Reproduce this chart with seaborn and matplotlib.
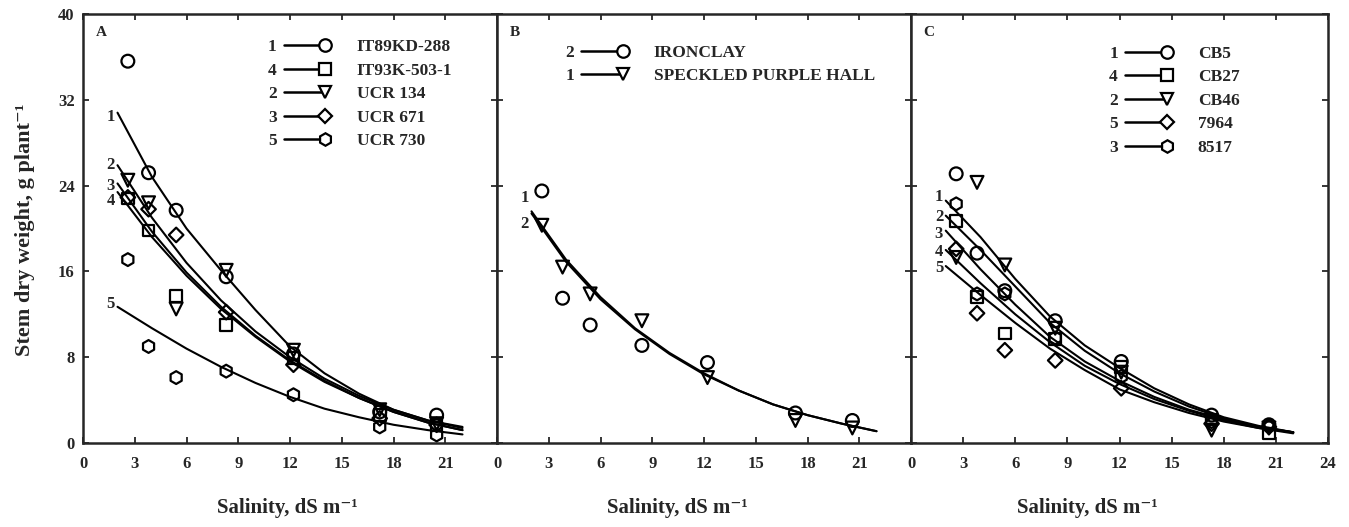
import matplotlib
matplotlib.use("Agg")
import matplotlib.pyplot as plt
import seaborn as sns
from matplotlib.lines import Line2D

# salinity levels (dS m-1) of the measured points, per panel
sal_A = [2.6, 3.8, 5.4, 8.3, 12.2, 17.2, 20.5]
sal_B = [2.6, 3.8, 5.4, 8.4, 12.2, 17.3, 20.6]
sal_C = [2.6, 3.8, 5.4, 8.3, 12.1, 17.3, 20.6]

curve_x = [2, 4, 6, 8, 10, 12, 14, 16, 18, 20, 22]

# ---- panel A: measured stem dry weight (g/plant) and fitted curves
pts_it89kd_288 = [35.6, 25.2, 21.7, 15.5, 8.3, 2.9, 2.6]
pts_it93k_503 = [22.8, 19.8, 13.7, 11.0, 7.9, 2.6, 1.7]
pts_ucr134 = [24.5, 22.4, 12.5, 16.1, 8.65, 3.1, 1.8]
pts_ucr671 = [22.9, 21.8, 19.4, 12.2, 7.3, 2.3, 1.7]
pts_ucr730 = [17.1, 9.0, 6.1, 6.7, 4.5, 1.5, 0.75]

fit_it89kd_288 = [30.8, 24.8, 20.0, 16.1, 12.4, 9.0, 6.5, 4.6, 3.1, 2.1, 1.5]
fit_it93k_503 = [23.4, 19.2, 15.6, 12.5, 9.9, 7.6, 5.7, 4.2, 2.9, 1.9, 1.2]
fit_ucr134 = [25.9, 21.0, 16.8, 13.3, 10.4, 8.0, 6.0, 4.4, 3.1, 2.1, 1.4]
fit_ucr671 = [24.2, 19.7, 15.9, 12.7, 10.0, 7.7, 5.8, 4.2, 2.9, 1.9, 1.2]
fit_ucr730 = [12.7, 10.7, 8.8, 7.1, 5.6, 4.3, 3.2, 2.4, 1.7, 1.2, 0.8]

# ---- panel B
pts_ironclay = [23.5, 13.5, 11.0, 9.1, 7.5, 2.8, 2.1]
pts_speckled = [20.3, 16.4, 13.9, 11.4, 6.1, 2.1, 1.4]

fit_ironclay = [21.4, 16.9, 13.4, 10.6, 8.3, 6.4, 4.9, 3.6, 2.6, 1.8, 1.1]
fit_speckled = [21.6, 17.1, 13.6, 10.7, 8.4, 6.5, 4.9, 3.6, 2.6, 1.8, 1.1]

# ---- panel C
pts_cb5 = [25.1, 17.7, 14.2, 11.4, 7.6, 2.6, 1.7]
pts_cb27 = [20.7, 13.6, 10.2, 9.7, 7.1, 2.2, 0.9]
pts_cb46 = [17.3, 24.3, 16.6, 10.7, 6.6, 1.2, 1.4]
pts_7964 = [18.1, 12.1, 8.65, 7.7, 5.1, 1.8, 1.5]
pts_8517 = [22.3, 13.9, 13.9, 9.8, 6.2, 2.0, 1.6]

fit_cb5 = [22.6, 19.2, 15.3, 11.8, 9.1, 7.0, 5.1, 3.6, 2.4, 1.6, 1.0]
fit_cb27 = [18.0, 14.9, 12.0, 9.4, 7.2, 5.5, 4.1, 3.0, 2.1, 1.4, 1.0]
fit_cb46 = [21.2, 18.0, 14.6, 11.2, 8.6, 6.5, 4.8, 3.4, 2.3, 1.5, 1.0]
fit_7964 = [16.5, 13.8, 11.2, 8.8, 6.8, 5.0, 3.8, 2.8, 2.0, 1.4, 0.9]
fit_8517 = [19.8, 16.2, 12.9, 9.9, 7.6, 5.8, 4.3, 3.1, 2.2, 1.5, 1.0]

# legend rows: (curve number, marker, genotype, points, fit)
panel_A = [("1", "o", "IT89KD-288", pts_it89kd_288, fit_it89kd_288),
           ("4", "s", "IT93K-503-1", pts_it93k_503, fit_it93k_503),
           ("2", "v", "UCR 134", pts_ucr134, fit_ucr134),
           ("3", "D", "UCR 671", pts_ucr671, fit_ucr671),
           ("5", "h", "UCR 730", pts_ucr730, fit_ucr730)]
panel_B = [("2", "o", "IRONCLAY", pts_ironclay, fit_ironclay),
           ("1", "v", "SPECKLED PURPLE HALL", pts_speckled, fit_speckled)]
panel_C = [("1", "o", "CB5", pts_cb5, fit_cb5),
           ("4", "s", "CB27", pts_cb27, fit_cb27),
           ("2", "v", "CB46", pts_cb46, fit_cb46),
           ("5", "D", "7964", pts_7964, fit_7964),
           ("3", "h", "8517", pts_8517, fit_8517)]

# where the curve numbers sit (y, by curve number 1..5)
num_y_A = {"1": 30.4, "2": 25.95, "3": 24.0, "4": 22.6, "5": 13.0}
num_y_B = {"1": 22.8, "2": 20.4}
num_y_C = {"1": 22.9, "2": 21.1, "3": 19.5, "4": 17.8, "5": 16.3}

sns.set_style("ticks")
plt.rcParams["font.family"] = ["Liberation Serif", "DejaVu Serif"]
plt.rcParams["font.weight"] = "bold"

W, H = 1349, 527
fig = plt.figure(figsize=(W / 100, H / 100), dpi=100)

msize = {"o": 85, "s": 70, "v": 85, "D": 55, "h": 85}
lsize = {"o": 9, "s": 8, "v": 9, "D": 7, "h": 9}

panels = [
    ("A", panel_A, sal_A, num_y_A, 83, 414, 0.258, 0.941),
    ("B", panel_B, sal_B, num_y_B, 497, 414, -0.024, 0.928),
    ("C", panel_C, sal_C, num_y_C, 911, 417, 0.288, 0.926),
]

for k, (tag, rows, sal, num_y, x0, w, lx, ly) in enumerate(panels):
    ax = fig.add_axes([x0 / W, 1 - 443 / H, w / W, 429 / H])
    for num, m, name, pts, fit in rows:
        sns.lineplot(x=curve_x, y=fit, ax=ax, color="black", linewidth=1.5)
        sns.scatterplot(x=sal, y=pts, ax=ax, marker=m, s=msize[m],
                        facecolor="none", edgecolor="black", linewidth=1.6,
                        zorder=3, clip_on=False)
        ax.text(1.85, num_y[num], num, ha="right", va="center",
                fontsize=12, fontweight="bold")

    ax.set_xlim(0, 24)
    ax.set_ylim(0, 40)
    ax.set_xticks(range(0, 25, 3))
    ax.set_yticks(range(0, 41, 8))
    if k < 2:
        ax.set_xticklabels([str(v) for v in range(0, 22, 3)] + [""])
    if k > 0:
        ax.set_yticklabels([])
    ax.tick_params(direction="in", top=True, right=True, length=4.5,
                   width=1.3, labelsize=12)
    ax.tick_params(axis="x", pad=9)
    ax.tick_params(axis="y", pad=6)
    for sp in ax.spines.values():
        sp.set_linewidth(1.8)
    ax.set_xlabel("")
    ax.set_ylabel("")

    ax.text(0.03, 0.958, tag, transform=ax.transAxes, ha="left", va="center",
            fontsize=11, fontweight="bold")

    # legend: first column only carries the curve numbers
    blank = [Line2D([], [], linestyle="none") for _ in rows]
    keys = [Line2D([], [], color="black", linewidth=1.8, marker=m,
                   markersize=lsize[m], markerfacecolor="white",
                   markeredgecolor="black", markeredgewidth=1.6)
            for _, m, _, _, _ in rows]
    leg = ax.legend(blank + keys, [r[0] for r in rows] + [r[2] for r in rows],
                    ncol=2, loc="upper left", bbox_to_anchor=(lx, ly),
                    frameon=False, numpoints=2, handlelength=3.0,
                    handletextpad=1.5, columnspacing=0.1, labelspacing=0.42,
                    borderpad=0, borderaxespad=0,
                    prop={"size": 12.5, "weight": "bold"})
    for h in leg.legend_handles[len(rows):]:
        h.set_markevery([1])

# axis titles
for cx in [287, 677, 1087]:
    fig.text(cx / W, 1 - 508 / H, "Salinity, dS m\u207b\u00b9", ha="center",
             va="center", fontsize=15, fontweight="bold")
fig.text(25 / W, 1 - 230 / H, "Stem dry weight, g plant\u207b\u00b9",
         rotation=90, ha="center", va="center", fontsize=16, fontweight="bold")

fig.savefig("out.png", dpi=100)
